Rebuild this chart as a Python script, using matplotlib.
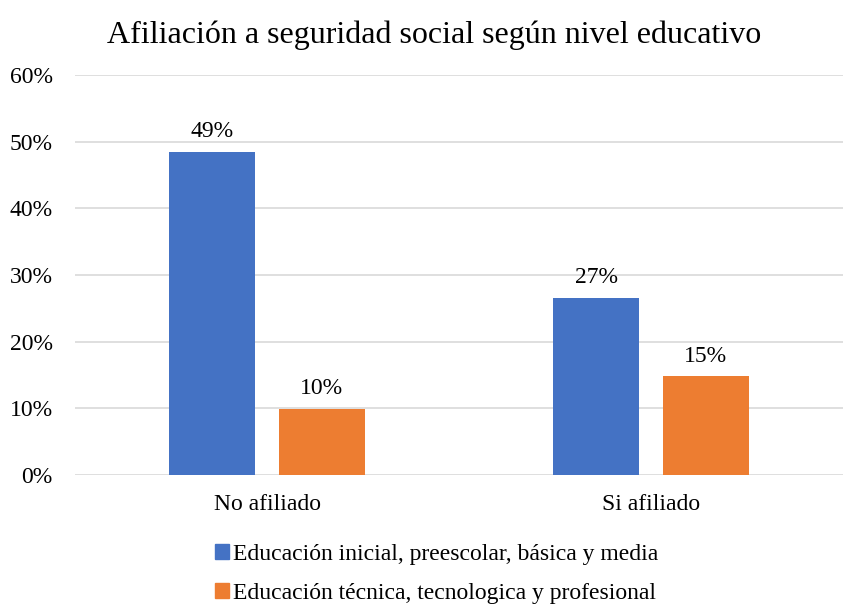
import matplotlib.pyplot as plt
import numpy as np
from matplotlib.patches import Patch

categories = ['No afiliado', 'Si afiliado']
series_names = ['Educación inicial, preescolar, básica y media',
                'Educación técnica, tecnologica y profesional']
basica = [48.5, 26.6]
tecnica = [9.9, 14.8]
labels_basica = ['49%', '27%']
labels_tecnica = ['10%', '15%']
yticks = [0, 10, 20, 30, 40, 50, 60]


def draw_chart():
    plt.rcParams['font.family'] = ['Liberation Serif', 'DejaVu Serif']
    fig = plt.figure(figsize=[8.44, 6.07], dpi=100)
    ax = fig.add_axes([75 / 844, 1 - 475 / 607, 768 / 844, 400 / 607])
    colors = ['#4472c4', '#ed7d31']
    width = 0.224
    off = 0.143
    x = np.arange(len(categories))
    b1 = ax.bar(x - off, basica, width, color=colors[0], zorder=3)
    b2 = ax.bar(x + off, tecnica, width, color=colors[1], zorder=3)
    for bars, labs in [(b1, labels_basica), (b2, labels_tecnica)]:
        for r, lab in zip(bars, labs):
            ax.annotate(lab, (r.get_x() + r.get_width() / 2, r.get_height()),
                        xytext=(0, 7), textcoords='offset points',
                        ha='center', va='bottom', fontsize=17)
    ax.set_xlim(-0.5, 1.5)
    ax.set_ylim(0, 60)
    ax.set_yticks(yticks)
    ax.set_yticklabels([f'{v}%' for v in yticks], fontsize=17)
    ax.set_xticks(x)
    ax.set_xticklabels(categories, fontsize=17)
    ax.tick_params(length=0)
    ax.tick_params(axis='x', pad=14)
    ax.tick_params(axis='y', pad=16)
    for s in ax.spines.values():
        s.set_visible(False)
    ax.grid(axis='y', color='#d9d9d9', linewidth=1.2, zorder=0)
    fig.text(434.5 / 844, 1 - 35 / 607,
             'Afiliación a seguridad social según nivel educativo',
             fontsize=23, ha='center', va='center')
    handles = [Patch(color=c) for c in colors]
    fig.legend(handles, series_names, loc='upper left',
               bbox_to_anchor=(203 / 844, 1 - 532 / 607), frameon=False,
               fontsize=17, handlelength=0.6, handleheight=0.6,
               handletextpad=0.15, labelspacing=0.75, borderpad=0)
    plt.savefig('out.png', dpi=100, facecolor='white')


if __name__ == '__main__':
    draw_chart()
